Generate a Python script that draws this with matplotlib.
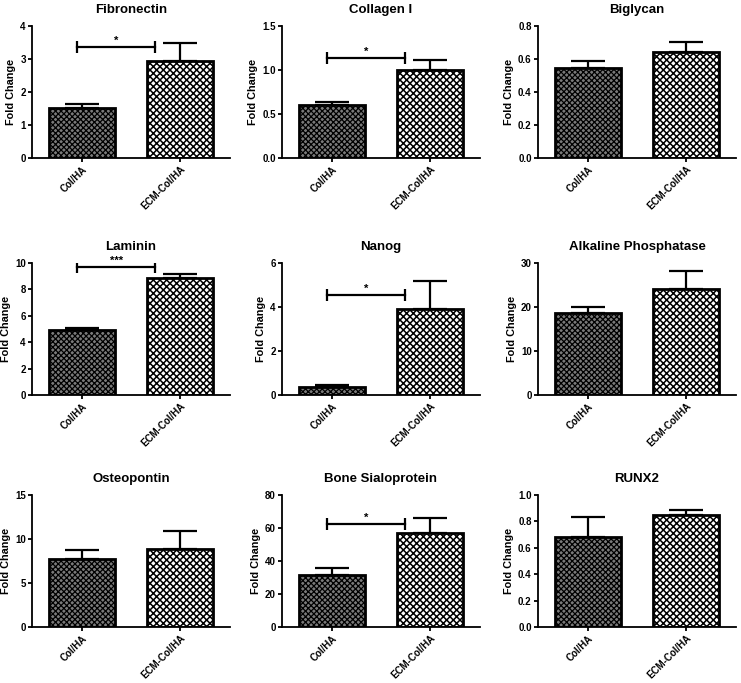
import numpy as np
import matplotlib
matplotlib.use("Agg")
from matplotlib import pyplot as plt

plt.rcParams['font.family'] = ['Liberation Sans', 'DejaVu Sans']
plt.rcParams['font.weight'] = 'bold'
plt.rcParams['axes.titleweight'] = 'bold'
plt.rcParams['axes.labelweight'] = 'bold'

groups = ['Col/HA', 'ECM-Col/HA']

titles = ['Fibronectin', 'Collagen I', 'Biglycan',
          'Laminin', 'Nanog', 'Alkaline Phosphatase',
          'Osteopontin', 'Bone Sialoprotein', 'RUNX2']

col_ha = [1.52, 0.60, 0.545, 4.9, 0.35, 18.7, 7.7, 31.5, 0.685]
col_ha_err = [0.11, 0.04, 0.045, 0.2, 0.10, 1.3, 1.0, 4.5, 0.145]
ecm = [2.93, 1.0, 0.645, 8.9, 3.93, 24.2, 8.9, 57.0, 0.845]
ecm_err = [0.57, 0.11, 0.06, 0.3, 1.27, 4.0, 2.0, 9.0, 0.045]

y_max = [4, 1.5, 0.8, 10, 6, 30, 15, 80, 1.0]
y_step = [1, 0.5, 0.2, 2, 2, 10, 5, 20, 0.2]
y_fmt = ['%d', '%.1f', '%.1f', '%d', '%d', '%d', '%d', '%d', '%.1f']

# significance brackets: panel index, bracket height, label
sig_panels = [0, 1, 3, 4, 7]
sig_y = [3.37, 1.14, 9.7, 4.55, 62.3]
sig_text = ['*', '*', '***', '*', '*']

fig = plt.figure(figsize=(7.41, 6.83), dpi=100)
W, H = 741, 683
lefts = [32, 282, 538]
tops = [26, 263, 495]
ax_w, ax_h = 198, 132


def hatched_bar(ax, x, h, face, hatch, hlw):
    with plt.rc_context({'hatch.linewidth': hlw}):
        b = ax.bar(x, h, width=0.68, facecolor=face, edgecolor='black',
                   linewidth=2, hatch=hatch, zorder=2)
    for p in b:
        if hasattr(p, 'set_hatch_linewidth'):
            p.set_hatch_linewidth(hlw)
    return b


for k in range(9):
    r, c = divmod(k, 3)
    ax = fig.add_axes([lefts[c] / W, 1 - (tops[r] + ax_h) / H, ax_w / W, ax_h / H])
    x = np.arange(2)
    hatched_bar(ax, x[0], col_ha[k], '#7a7a7a', 'xxxxxx', 0.9)
    hatched_bar(ax, x[1], ecm[k], 'white', 'xxxxx', 1.1)
    ax.errorbar(x, [col_ha[k], ecm[k]], yerr=[[0, 0], [col_ha_err[k], ecm_err[k]]],
                fmt='none', ecolor='black', elinewidth=1.6, capsize=12,
                capthick=1.6, zorder=1)
    ax.set_xlim(-0.51, 1.51)
    ax.set_ylim(0, y_max[k])
    ax.set_yticks(np.arange(0, y_max[k] + y_step[k] / 2, y_step[k]))
    ax.set_yticklabels([y_fmt[k] % v for v in ax.get_yticks()], fontweight='bold')
    ax.set_xticks(x)
    ax.set_xticklabels(groups, rotation=45, ha='right', rotation_mode='anchor',
                       fontweight='bold')
    ax.tick_params(labelsize=7, width=1.3, length=3, pad=1.5)
    for s in ['top', 'right']:
        ax.spines[s].set_visible(False)
    for s in ['left', 'bottom']:
        ax.spines[s].set_linewidth(1.3)
    ax.set_ylabel('Fold Change', fontsize=7.8, labelpad=3)
    ax.set_title(titles[k], fontsize=9.5, pad=9.5)

    if k in sig_panels:
        i = sig_panels.index(k)
        ax.plot([-0.05, 0.74], [sig_y[i], sig_y[i]], color='black', lw=1.6,
                marker='|', markersize=8, mew=1.6)
        ax.text(0.35, sig_y[i] + y_max[k] * 0.01, sig_text[i], ha='center',
                va='bottom', fontsize=8, fontweight='bold')

fig.savefig('out.png', dpi=100)
